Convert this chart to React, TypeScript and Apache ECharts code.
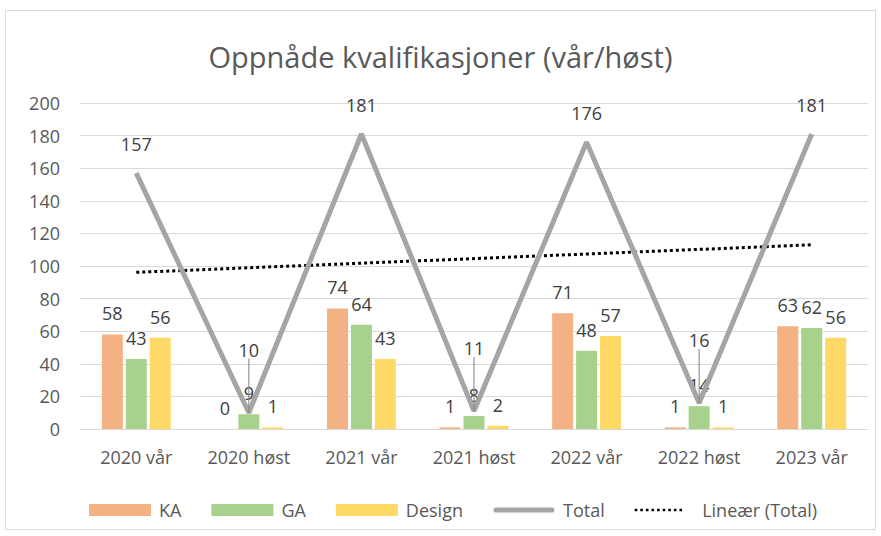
import React, { useEffect, useRef } from "react";
import * as echarts from "echarts";

const categories = ["2020 vår", "2020 høst", "2021 vår", "2021 høst", "2022 vår", "2022 høst", "2023 vår"];
const ka = [58, 0, 74, 1, 71, 1, 63];
const ga = [43, 9, 64, 8, 48, 14, 62];
const design = [56, 1, 43, 2, 57, 1, 56];
const total = [157, 10, 181, 11, 176, 16, 181];
const trend = [96.1, null, null, null, null, null, 113.0];
const yTicks = { min: 0, max: 200, interval: 20 };

const FONT = "'Open Sans', 'Noto Sans', sans-serif";
const TXT = "#404040";

const totalIcon =
  "path://M0,0 M3,3.5 L59,3.5 A2.5,2.5 0 0 1 59,8.5 L3,8.5 A2.5,2.5 0 0 1 3,3.5 Z M62,12";
const dotIcon = (() => {
  let d = "path://M0,0 ";
  for (let i = 0; i < 9; i++) {
    const x = i * 5.6;
    d += `M${x},4.7 L${x + 2.6},4.7 L${x + 2.6},7.3 L${x},7.3 Z `;
  }
  return d + "M57,12";
})();

export default function App() {
  const ref = useRef<HTMLDivElement>(null);
  useEffect(() => {
    if (!ref.current) return;
    const chart = echarts.init(ref.current, null, { renderer: "svg" });
    const barLabel = {
      show: true,
      position: "top",
      distance: 12,
      color: TXT,
      fontSize: 18,
      fontFamily: FONT,
    };
    chart.setOption({
      animation: false,
      backgroundColor: "#fff",
      textStyle: { fontFamily: FONT },
      title: {
        text: "Oppnåde kvalifikasjoner (vår/høst)",
        left: "center",
        top: 37,
        textStyle: { fontSize: 29, fontWeight: "normal", color: "#595959", fontFamily: FONT },
      },
      graphic: [
        {
          type: "rect",
          shape: { x: 5.5, y: 10.5, width: 870, height: 519 },
          style: { fill: "none", stroke: "#d9d9d9", lineWidth: 1 },
          silent: true,
        },
      ],
      legend: {
        top: 496,
        left: 84,
        itemWidth: 62,
        itemHeight: 12,
        itemGap: 30,
        textStyle: { fontSize: 18, color: "#595959", fontFamily: FONT, padding: [0, 0, 0, 3] },
        data: [
          { name: "KA", icon: "rect" },
          { name: "GA", icon: "rect" },
          { name: "Design", icon: "rect" },
          { name: "Total", icon: totalIcon },
          { name: "Lineær (Total)", icon: dotIcon, itemStyle: { color: "#000" } },
        ],
      },
      grid: { left: 80, right: 13, top: 103, bottom: 107 },
      xAxis: {
        type: "category",
        data: categories,
        axisTick: { show: false },
        axisLine: { lineStyle: { color: "#d9d9d9", width: 1 } },
        axisLabel: { color: "#595959", fontSize: 18, margin: 19, fontFamily: FONT },
      },
      yAxis: {
        type: "value",
        min: yTicks.min,
        max: yTicks.max,
        interval: yTicks.interval,
        axisLine: { show: false },
        axisTick: { show: false },
        splitLine: { lineStyle: { color: "#d9d9d9", width: 1 } },
        axisLabel: { color: "#595959", fontSize: 18, margin: 20, fontFamily: FONT },
      },
      series: [
        {
          name: "KA",
          type: "bar",
          data: ka,
          barWidth: 21,
          barGap: "14%",
          itemStyle: { color: "#F4B183" },
          label: barLabel,
        },
        {
          name: "GA",
          type: "bar",
          data: ga,
          barWidth: 21,
          barGap: "14%",
          itemStyle: { color: "#A9D18E" },
          label: barLabel,
        },
        {
          name: "Design",
          type: "bar",
          data: design,
          barWidth: 21,
          barGap: "14%",
          itemStyle: { color: "#FFD966" },
          label: barLabel,
        },
        {
          name: "Total",
          type: "line",
          data: total.map((v, i) =>
            i % 2 === 1
              ? { value: v, labelLine: { show: true, lineStyle: { color: "#7f7f7f", width: 1 } } }
              : v
          ),
          symbol: "circle",
          symbolSize: 0.1,
          showSymbol: true,
          z: 5,
          lineStyle: { color: "#A5A5A5", width: 5 },
          itemStyle: { color: "#A5A5A5" },
          label: { show: true, position: "top", distance: 20, color: TXT, fontSize: 18, fontFamily: FONT },
          labelLayout: (p: any) => (p.dataIndex % 2 === 1 ? { dy: -34 } : {}),
        },
        {
          name: "Lineær (Total)",
          type: "line",
          data: trend,
          connectNulls: true,
          symbol: "none",
          z: 4,
          lineStyle: { color: "#000", width: 3, type: [3, 3] },
          itemStyle: { color: "#000" },
        },
      ],
    });
    return () => chart.dispose();
  }, []);
  return (
    <div
      ref={ref}
      style={{ position: "absolute", left: 0, top: 0, width: 881, height: 536 }}
    />
  );
}
